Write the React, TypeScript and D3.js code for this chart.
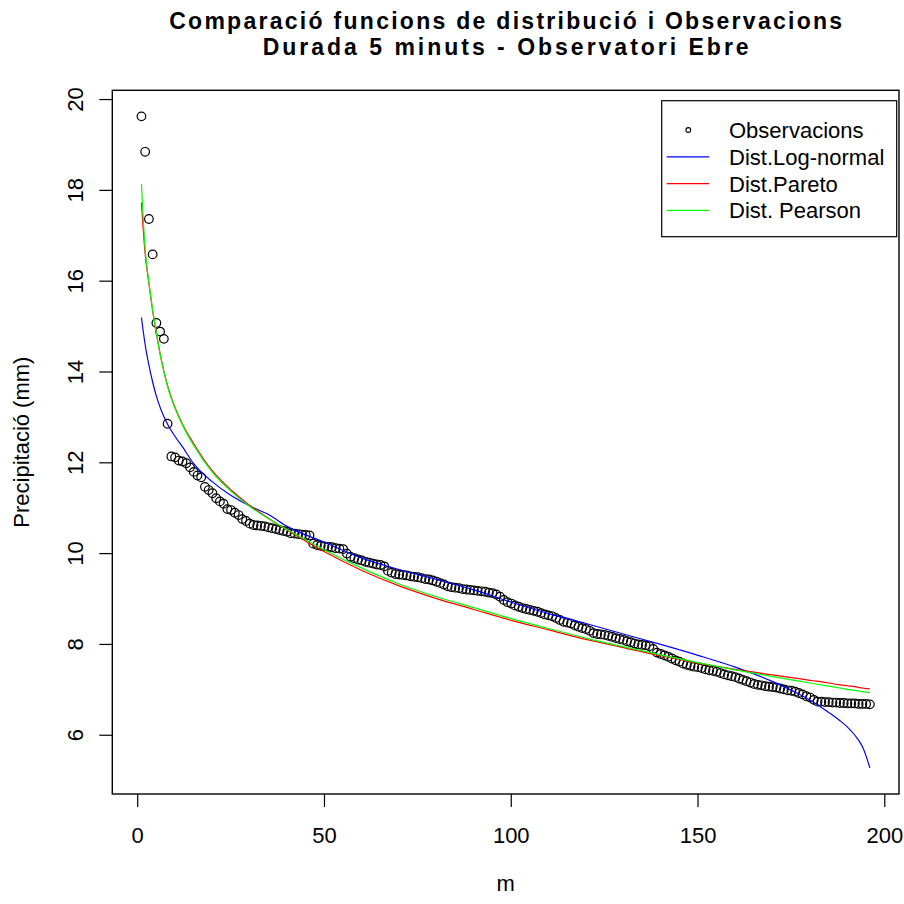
import React from 'react';
import * as d3 from 'd3';

const title1 = 'Comparació funcions de distribució i Observacions';
const title2 = 'Durada 5 minuts - Observatori Ebre';
const xLabel = 'm';
const yLabel = 'Precipitació (mm)';

const observations = [
  19.63, 18.85, 17.37, 16.59, 15.08, 14.89, 14.73, 12.86, 12.14, 12.12,
  12.05, 12.03, 11.99, 11.9, 11.8, 11.72, 11.68, 11.47, 11.4, 11.33,
  11.22, 11.15, 11.1, 10.98, 10.96, 10.9, 10.85, 10.76, 10.72, 10.66,
  10.63, 10.62, 10.61, 10.6, 10.58, 10.56, 10.54, 10.52, 10.5, 10.48,
  10.45, 10.44, 10.43, 10.42, 10.41, 10.4, 10.22, 10.19, 10.17, 10.16,
  10.15, 10.14, 10.12, 10.11, 10.1, 10.0, 9.93, 9.9, 9.87, 9.85,
  9.82, 9.8, 9.78, 9.76, 9.75, 9.72, 9.62, 9.58, 9.55, 9.54,
  9.53, 9.52, 9.5, 9.49, 9.48, 9.46, 9.44, 9.43, 9.41, 9.38,
  9.35, 9.32, 9.28, 9.26, 9.25, 9.24, 9.22, 9.21, 9.2, 9.19,
  9.18, 9.17, 9.16, 9.14, 9.13, 9.1, 9.05, 8.98, 8.93, 8.9,
  8.86, 8.83, 8.8, 8.78, 8.76, 8.74, 8.72, 8.69, 8.66, 8.64,
  8.62, 8.58, 8.54, 8.5, 8.48, 8.46, 8.42, 8.39, 8.36, 8.34,
  8.3, 8.25, 8.23, 8.22, 8.21, 8.19, 8.17, 8.14, 8.12, 8.1,
  8.07, 8.05, 8.02, 8.0, 7.99, 7.98, 7.96, 7.9, 7.82, 7.79,
  7.76, 7.73, 7.69, 7.65, 7.62, 7.58, 7.55, 7.53, 7.51, 7.5,
  7.48, 7.45, 7.43, 7.42, 7.4, 7.37, 7.34, 7.32, 7.3, 7.28,
  7.25, 7.22, 7.19, 7.16, 7.13, 7.11, 7.1, 7.08, 7.07, 7.06,
  7.05, 7.03, 7.01, 6.99, 6.98, 6.96, 6.93, 6.9, 6.86, 6.83,
  6.78, 6.74, 6.74, 6.73, 6.73, 6.72, 6.72, 6.71, 6.71, 6.7,
  6.7, 6.7, 6.69, 6.69, 6.69, 6.68,
];

const curveM = [1, 2, 3, 4, 5, 6, 7, 8, 10, 12, 15, 20, 25, 30, 35, 40, 50, 60, 70, 80, 90, 100, 110, 120, 130, 140, 150, 160, 170, 175, 180, 185, 188, 190, 192, 194, 195, 196];
const logNormal = [15.2, 14.6, 14.15, 13.78, 13.47, 13.22, 13.02, 12.85, 12.58, 12.35, 11.98, 11.58, 11.28, 11.05, 10.86, 10.6, 10.25, 9.9, 9.65, 9.43, 9.2, 8.93, 8.68, 8.46, 8.23, 8.0, 7.76, 7.5, 7.18, 6.99, 6.77, 6.5, 6.32, 6.18, 6.0, 5.75, 5.54, 5.28];
const pareto = [17.73, 16.6, 15.95, 15.35, 14.85, 14.4, 14.02, 13.7, 13.22, 12.85, 12.42, 11.82, 11.4, 11.06, 10.78, 10.52, 10.04, 9.63, 9.29, 9.01, 8.77, 8.53, 8.32, 8.11, 7.93, 7.75, 7.59, 7.45, 7.33, 7.27, 7.21, 7.15, 7.11, 7.09, 7.07, 7.04, 7.03, 7.02];
const pearson = [18.14, 16.7, 15.98, 15.37, 14.86, 14.4, 14.02, 13.68, 13.2, 12.83, 12.38, 11.79, 11.37, 11.04, 10.77, 10.53, 10.08, 9.68, 9.33, 9.05, 8.81, 8.57, 8.35, 8.14, 7.95, 7.77, 7.6, 7.44, 7.29, 7.22, 7.15, 7.08, 7.04, 7.01, 6.99, 6.96, 6.95, 6.94];

const xTicks = [0, 50, 100, 150, 200];
const yTicks = [6, 8, 10, 12, 14, 16, 18, 20];

const legendLabels = ['Observacions', 'Dist.Log-normal', 'Dist.Pareto', 'Dist. Pearson'];
const seriesColors = ['#000000', '#0000FF', '#FF0000', '#00FF00'];

const FONT = '"Liberation Sans", Arial, sans-serif';

export default function App() {
  const left = 112.3, right = 899, top = 90.3, bottom = 794;
  const obsM = observations.map((_, i) => i + 1);
  const xMin = d3.min(obsM)!, xMax = d3.max(obsM)!;
  const allY = [...observations, ...logNormal, ...pareto, ...pearson];
  const yMin = d3.min(allY)!, yMax = d3.max(allY)!;
  const xPad = (xMax - xMin) * 0.04, yPad = (yMax - yMin) * 0.04;
  const x = d3.scaleLinear().domain([xMin - xPad, xMax + xPad]).range([left, right]);
  const y = d3.scaleLinear().domain([yMin - yPad, yMax + yPad]).range([bottom, top]);

  const line = (vals: number[]) =>
    d3.line<number>().x((_, i) => x(curveM[i])).y((d) => y(d)).curve(d3.curveMonotoneX)(vals) || '';

  const legX = 661.7, legY = 100.7, legW = 235, legH = 136;
  const rowY = (i: number) => 130 + i * 26.8;

  return (
    <svg width={904} height={904} style={{ position: 'absolute', left: 0, top: 0, background: '#fff' }} fontFamily={FONT}>
      <rect x={0} y={0} width={904} height={904} fill="#fff" />
      <text x={(left + right) / 2} y={29} textAnchor="middle" fontWeight="bold" fontSize={23} textLength={673} lengthAdjust="spacing">{title1}</text>
      <text x={(left + right) / 2} y={55} textAnchor="middle" fontWeight="bold" fontSize={23} textLength={486} lengthAdjust="spacing">{title2}</text>

      {/* observations */}
      {observations.map((v, i) => (
        <circle key={i} cx={x(obsM[i])} cy={y(v)} r={4.3} fill="none" stroke="#000" strokeWidth={1.2} />
      ))}
      <path d={line(logNormal)} fill="none" stroke={seriesColors[1]} strokeWidth={1.2} />
      <path d={line(pareto)} fill="none" stroke={seriesColors[2]} strokeWidth={1.2} />
      <path d={line(pearson)} fill="none" stroke={seriesColors[3]} strokeWidth={1.2} />

      {/* box */}
      <rect x={left} y={top} width={right - left} height={bottom - top} fill="none" stroke="#000" strokeWidth={1.4} />

      {/* x axis */}
      {xTicks.map((t) => (
        <g key={t}>
          <line x1={x(t)} x2={x(t)} y1={bottom} y2={bottom + 13} stroke="#000" strokeWidth={1.2} />
          <text x={x(t)} y={843} textAnchor="middle" fontSize={22}>{t}</text>
        </g>
      ))}
      <text x={(left + right) / 2} y={891} textAnchor="middle" fontSize={22}>{xLabel}</text>

      {/* y axis */}
      {yTicks.map((t) => (
        <g key={t}>
          <line x1={left - 13} x2={left} y1={y(t)} y2={y(t)} stroke="#000" strokeWidth={1.2} />
          <text transform={`translate(83,${y(t)}) rotate(-90)`} textAnchor="middle" fontSize={22}>{t}</text>
        </g>
      ))}
      <text transform={`translate(29,${(top + bottom) / 2}) rotate(-90)`} textAnchor="middle" fontSize={22}>{yLabel}</text>

      {/* legend */}
      <rect x={legX} y={legY} width={legW} height={legH} fill="#fff" stroke="#000" strokeWidth={1.2} />
      {legendLabels.map((lab, i) => (
        <g key={lab}>
          {i === 0 ? (
            <circle cx={688.3} cy={rowY(i)} r={2.4} fill="none" stroke="#000" strokeWidth={1.1} />
          ) : (
            <line x1={666.7} x2={709.3} y1={rowY(i)} y2={rowY(i)} stroke={seriesColors[i]} strokeWidth={1.2} />
          )}
          <text x={729} y={rowY(i) + 8} fontSize={22}>{lab}</text>
        </g>
      ))}
    </svg>
  );
}
